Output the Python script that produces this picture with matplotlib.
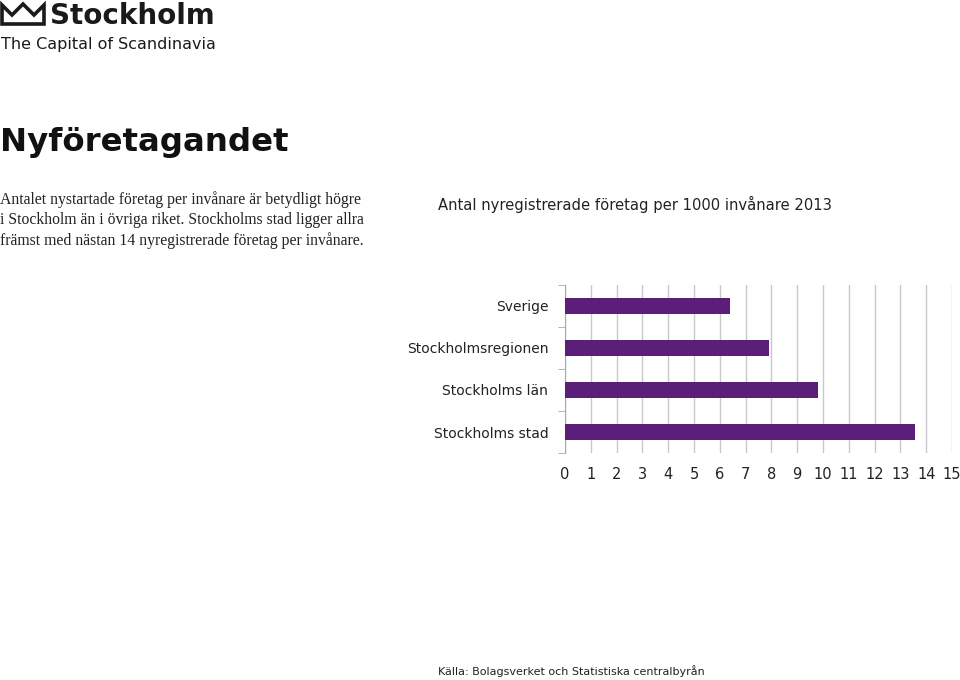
import matplotlib
matplotlib.use("Agg")
import matplotlib.pyplot as plt

categories = ["Sverige", "Stockholmsregionen", "Stockholms län", "Stockholms stad"]
values = [6.4, 7.9, 9.8, 13.55]
xticks = list(range(0, 16))

W, H = 960, 680
fig = plt.figure(figsize=(W/100, H/100), dpi=100)
fig.patch.set_facecolor("white")

def fx(x): return x / W
def fy(y): return 1 - y / H

crown = plt.Polygon([(fx(2), fy(24)), (fx(2), fy(5)), (fx(12), fy(15)), (fx(23), fy(4)),
                     (fx(34), fy(15)), (fx(44), fy(5)), (fx(44), fy(24))],
                    closed=True, fill=False, ec="#1a1a1a", lw=2.6, transform=fig.transFigure)
fig.add_artist(crown)
fig.text(fx(50), fy(16), "Stockholm", fontsize=20, fontweight="bold", family="DejaVu Sans",
         va="center", ha="left", color="#1a1a1a")
fig.text(fx(1), fy(44), "The Capital of Scandinavia", fontsize=11.5, family="DejaVu Sans",
         va="center", ha="left", color="#1a1a1a")

fig.text(fx(0), fy(143), "Nyföretagandet", fontsize=23.3, fontweight="bold", family="DejaVu Sans",
         va="center", ha="left", color="#111111")
fig.text(fx(0), fy(191), "Antalet nystartade företag per invånare är betydligt högre\n"
         "i Stockholm än i övriga riket. Stockholms stad ligger allra\n"
         "främst med nästan 14 nyregistrerade företag per invånare.",
         fontsize=11.3, family="Liberation Serif", va="top", ha="left", color="#222222",
         linespacing=1.35)
fig.text(fx(635), fy(204), "Antal nyregistrerade företag per 1000 invånare 2013", fontsize=10.6,
         family="DejaVu Sans", va="center", ha="center", color="#222222")
fig.text(fx(571), fy(671), "Källa: Bolagsverket och Statistiska centralbyrån", fontsize=8,
         family="DejaVu Sans", va="center", ha="center", color="#222222")

ax = fig.add_axes([fx(565), fy(453), fx(952 - 565), (453 - 285) / H])
y = list(range(len(categories)))
ax.barh(y, values, height=0.38, color="#5b1f7a", zorder=3)
ax.set_ylim(len(categories) - 0.5, -0.5)
ax.set_xlim(0, 15)
ax.set_xticks(xticks)
ax.set_xticklabels([str(t) for t in xticks], fontsize=10.5, color="#222222")
ax.set_yticks(y)
ax.set_yticklabels(categories, fontsize=10, color="#222222")
ax.tick_params(axis="y", length=0, pad=12)
ax.tick_params(axis="x", length=0, pad=10)
ax.set_yticks([i - 0.5 for i in range(len(categories) + 1)], minor=True)
ax.tick_params(axis="y", which="minor", length=5, color="#aaaaaa", direction="out")
ax.grid(axis="x", color="#c8c8c8", lw=1, zorder=0)
for s in ["top", "right", "bottom"]:
    ax.spines[s].set_visible(False)
ax.spines["left"].set_color("#aaaaaa")

fig.savefig("out.png", dpi=100)
